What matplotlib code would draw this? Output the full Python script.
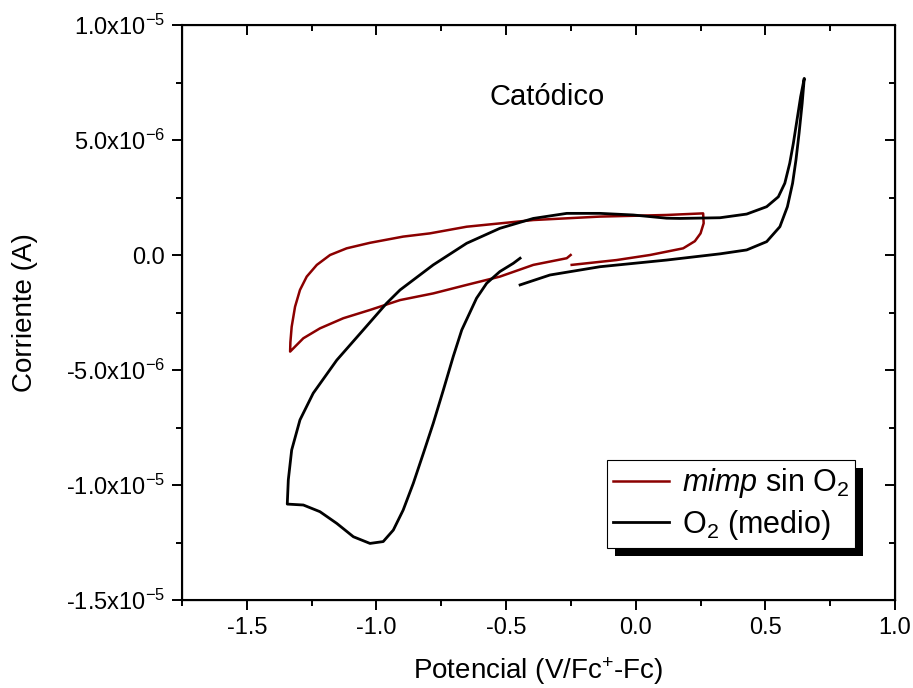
import numpy as np
import matplotlib.pyplot as plt
from matplotlib.patches import Rectangle
from matplotlib.ticker import MultipleLocator, FuncFormatter

plt.rcParams['font.family'] = ['Liberation Sans', 'DejaVu Sans']
plt.rcParams['mathtext.fontset'] = 'custom'
plt.rcParams['mathtext.rm'] = 'Liberation Sans'
plt.rcParams['mathtext.it'] = 'Liberation Sans:italic'

# mimp sin O2 (potential V, current uA)
red_x = [-0.251, -0.266, -0.395, -0.524, -0.652, -0.781, -0.909, -1.025, -1.128, -1.218, -1.282, -1.333,
         -1.332, -1.327, -1.314, -1.295, -1.269, -1.230, -1.179, -1.115, -1.025, -0.897, -0.794, -0.652,
         -0.395, -0.138, 0.119, 0.260,
         0.262, 0.250, 0.228, 0.183, 0.055, -0.074, -0.247]
red_y = [0.0, -0.14, -0.43, -0.94, -1.30, -1.67, -1.96, -2.39, -2.75, -3.19, -3.62, -4.2,
         -3.8, -3.12, -2.25, -1.52, -0.94, -0.43, 0.0, 0.29, 0.53, 0.80, 0.94, 1.23,
         1.52, 1.67, 1.74, 1.81,
         1.38, 0.94, 0.60, 0.29, 0.0, -0.22, -0.43]

# O2 (medio)
blk_x = [-0.446, -0.331, -0.138, 0.119, 0.325, 0.428, 0.505, 0.556, 0.585, 0.605, 0.618, 0.630, 0.642, 0.650,
         0.636, 0.622, 0.608, 0.594, 0.575, 0.550, 0.505, 0.428, 0.325, 0.171, 0.119, -0.010, -0.138,
         -0.266, -0.395, -0.524, -0.652, -0.781, -0.909, -0.961, -1.051, -1.153, -1.244, -1.295, -1.327,
         -1.340, -1.344,
         -1.282, -1.218, -1.153, -1.089, -1.025, -0.974, -0.935, -0.897, -0.858, -0.819, -0.781, -0.742,
         -0.704, -0.671, -0.614, -0.575, -0.524, -0.472, -0.446]
blk_y = [-1.30, -0.87, -0.51, -0.22, 0.05, 0.22, 0.58, 1.23, 2.1, 3.12, 4.13, 5.29, 6.6, 7.68,
         6.88, 5.87, 4.86, 3.99, 3.12, 2.53, 2.10, 1.78, 1.62, 1.59, 1.60, 1.74, 1.81,
         1.81, 1.59, 1.16, 0.51, -0.43, -1.52, -2.1, -3.26, -4.57, -6.01, -7.17, -8.48,
         -9.78, -10.83,
         -10.87, -11.16, -11.67, -12.25, -12.54, -12.46, -11.96, -11.09, -9.93, -8.62, -7.32, -5.87,
         -4.42, -3.26, -1.88, -1.23, -0.72, -0.36, -0.14]

fig = plt.figure(figsize=(9.13, 6.88), dpi=100)
ax = fig.add_axes([182/913, 1-600/688, 713/913, 575/688])

ax.plot(red_x, np.array(red_y)*1e-6, color='#8b0000', lw=1.8, label=r'$\it{mimp}$ sin O$_2$')
ax.plot(blk_x, np.array(blk_y)*1e-6, color='black', lw=2.0, label=r'O$_2$ (medio)')

ax.set_xlim(-1.75, 1.0)
ax.set_ylim(-1.5e-5, 1.0e-5)
ax.xaxis.set_major_locator(MultipleLocator(0.5))
ax.xaxis.set_minor_locator(MultipleLocator(0.25))
ax.yaxis.set_major_locator(MultipleLocator(5e-6))
ax.yaxis.set_minor_locator(MultipleLocator(2.5e-6))

def yfmt(v, pos):
    if abs(v) < 1e-12:
        return '0.0'
    e = int(np.floor(np.log10(abs(v))))
    m = v / 10**e
    return r'%.1fx10$^{%d}$' % (m, e)

ax.yaxis.set_major_formatter(FuncFormatter(yfmt))
ax.xaxis.set_major_formatter(FuncFormatter(lambda v, p: '%.1f' % v))
ax.tick_params(which='major', direction='out', length=7, width=1.4, labelsize=17, pad=5)
ax.tick_params(which='minor', direction='out', length=4, width=1.4)
for s in ax.spines.values():
    s.set_linewidth(1.5)

# inward ticks on top and right
axt = ax.twiny()
axt.set_xlim(ax.get_xlim())
axt.xaxis.set_major_locator(MultipleLocator(0.5))
axt.xaxis.set_minor_locator(MultipleLocator(0.25))
axt.tick_params(which='both', direction='in', width=1.4, labeltop=False)
axt.tick_params(which='major', length=7)
axt.tick_params(which='minor', length=4)
axr = ax.twinx()
axr.set_ylim(ax.get_ylim())
axr.yaxis.set_major_locator(MultipleLocator(5e-6))
axr.yaxis.set_minor_locator(MultipleLocator(2.5e-6))
axr.tick_params(which='both', direction='in', width=1.4, labelright=False)
axr.tick_params(which='major', length=7)
axr.tick_params(which='minor', length=4)

ax.set_xlabel(r'Potencial (V/Fc$^{+}$-Fc)', fontsize=20, labelpad=12)
ax.set_ylabel('Corriente (A)', fontsize=20, labelpad=20)
ax.text(-0.34, 6.85e-6, 'Catódico', fontsize=21, ha='center', va='center')

leg = ax.legend(loc='lower right', bbox_to_anchor=(0.944, 0.09), borderaxespad=0,
                fontsize=22, fancybox=False, framealpha=1, edgecolor='black',
                handlelength=1.85, handletextpad=0.4, borderpad=0.2, labelspacing=0.25)
leg.get_frame().set_linewidth(0.8)
leg.set_zorder(10)

fig.canvas.draw()
bb = leg.get_window_extent()
shadow = Rectangle((bb.x0 + 8, bb.y0 - 8), bb.width, bb.height, transform=None,
                   facecolor='black', edgecolor='none', zorder=9)
ax.add_artist(shadow)

fig.savefig('out.png', dpi=100)
